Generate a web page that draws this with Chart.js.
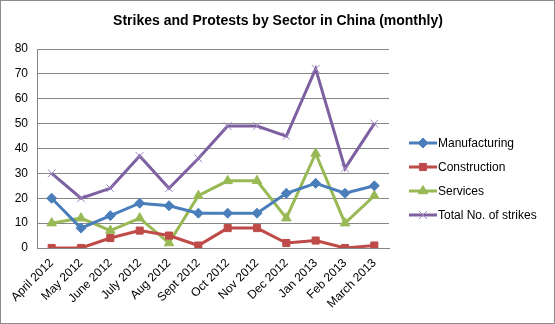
<!DOCTYPE html>
<html lang="en">

<head>
    <meta charset="UTF-8" />
    <title>Strikes and Protests by Sector in China</title>
    <script src="https://cdn.jsdelivr.net/npm/chart.js@4.4.0/dist/chart.umd.min.js"></script>
    <style>
        body { margin: 0; background: #fff; }
        #wrap { width: 553px; height: 322px; border: 1px solid #8c8c8c; }
    </style>
</head>

<body>

    <div id="wrap"><canvas id="chart" width="553" height="322"></canvas></div>

    <script>
        const months = ['April 2012', 'May 2012', 'June 2012', 'July 2012', 'Aug 2012', 'Sept 2012',
            'Oct 2012', 'Nov 2012', 'Dec 2012', 'Jan 2013', 'Feb 2013', 'March 2013'];
        const manufacturing = [20, 8, 13, 18, 17, 14, 14, 14, 22, 26, 22, 25];
        const construction = [0, 0, 4, 7, 5, 1, 8, 8, 2, 3, 0, 1];
        const services = [10, 12, 7, 12, 2, 21, 27, 27, 12, 38, 10, 21];
        const totalStrikes = [30, 20, 24, 37, 24, 36, 49, 49, 45, 72, 32, 50];
        const yTicks = [0, 10, 20, 30, 40, 50, 60, 70, 80];
        const chartTitle = 'Strikes and Protests by Sector in China (monthly)';

        const font = 'Liberation Sans';

        // title centred on the whole canvas, legend drawn as line + marker
        const titleAndLegend = {
            id: 'titleAndLegend',
            afterDraw(chart) {
                const ctx = chart.ctx;
                ctx.save();
                ctx.fillStyle = '#000';
                ctx.font = 'bold 14px ' + font;
                ctx.textAlign = 'center';
                ctx.textBaseline = 'middle';
                ctx.fillText(chartTitle, 277, 20);
                ctx.restore();

                const x0 = 408, y0 = 142, gap = 24;
                chart.data.datasets.forEach((ds, i) => {
                    const y = y0 + i * gap;
                    ctx.save();
                    ctx.strokeStyle = ds.borderColor;
                    ctx.lineWidth = 3;
                    ctx.beginPath();
                    ctx.moveTo(x0, y);
                    ctx.lineTo(x0 + 28, y);
                    ctx.stroke();
                    ctx.fillStyle = ds.pointBackgroundColor;
                    ctx.strokeStyle = ds.pointBorderColor;
                    ctx.lineWidth = ds.pointBorderWidth;
                    Chart.helpers.drawPoint(ctx, {
                        pointStyle: ds.pointStyle,
                        radius: ds.pointRadius,
                        borderWidth: ds.pointBorderWidth
                    }, x0 + 14, y);
                    ctx.fillStyle = '#000';
                    ctx.font = '12px ' + font;
                    ctx.textBaseline = 'middle';
                    ctx.fillText(ds.label, x0 + 29, y + 1);
                    ctx.restore();
                });
            }
        };

        function series(label, values, color, style, radius, extra) {
            return Object.assign({
                label: label,
                data: values,
                borderColor: color,
                backgroundColor: color,
                borderWidth: 3,
                pointStyle: style,
                pointRadius: radius,
                pointHoverRadius: radius,
                pointBorderColor: color,
                pointBackgroundColor: color,
                pointBorderWidth: 1,
                tension: 0
            }, extra || {});
        }

        const ctx = document.getElementById('chart').getContext('2d');
        const myChart = new Chart(ctx, {
            type: 'line',
            data: {
                labels: months,
                datasets: [
                    series('Manufacturing', manufacturing, '#4a7ebb', 'rectRot', 5),
                    series('Construction', construction, '#be4b48', 'rect', 5),
                    series('Services', services, '#98b954', 'triangle', 5.5),
                    series('Total No. of strikes', totalStrikes, '#7d60a0', 'crossRot', 5.5,
                        { pointBorderColor: '#9b84c0' })
                ]
            },
            options: {
                responsive: false,
                animation: false,
                layout: { padding: { left: 0, right: 165, top: 48, bottom: 0 } },
                plugins: {
                    legend: { display: false },
                    tooltip: { enabled: false },
                    title: { display: false }
                },
                scales: {
                    x: {
                        offset: true,
                        grid: { display: false, drawTicks: false },
                        border: { color: '#868686' },
                        ticks: {
                            color: '#000',
                            font: { family: font, size: 12 },
                            minRotation: 45,
                            maxRotation: 45,
                            padding: 8
                        },
                        afterFit(axis) { axis.height = 75; }
                    },
                    y: {
                        min: 0,
                        max: 80,
                        afterBuildTicks(axis) { axis.ticks = yTicks.map(v => ({ value: v })); },
                        grid: { color: '#868686', drawTicks: false },
                        border: { color: '#868686' },
                        ticks: {
                            color: '#000',
                            font: { family: font, size: 12 },
                            padding: 9
                        },
                        afterFit(axis) { axis.width = 36; }
                    }
                }
            },
            plugins: [titleAndLegend]
        });
    </script>
</body>

</html>
